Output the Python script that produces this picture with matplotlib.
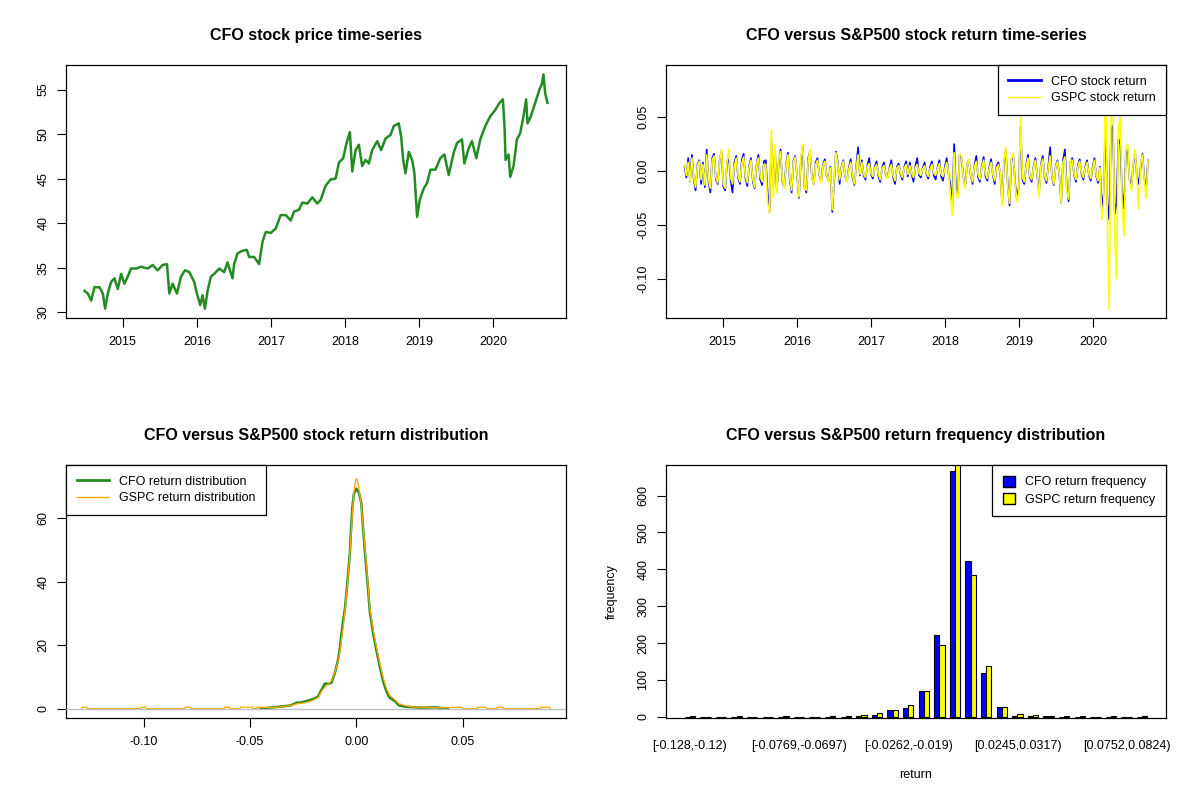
import numpy as np
import matplotlib
matplotlib.use("Agg")
import matplotlib.pyplot as plt
from matplotlib.patches import Patch
from matplotlib.lines import Line2D

plt.rcParams['font.family'] = ['Liberation Sans', 'DejaVu Sans']

# --- CFO price (decimal year, close) ---
price_t = [2014.484, 2014.529, 2014.574, 2014.618, 2014.686, 2014.731, 2014.762, 2014.798,
           2014.843, 2014.888, 2014.933, 2014.978, 2015.022, 2015.067, 2015.112, 2015.180,
           2015.247, 2015.337, 2015.404, 2015.471, 2015.539, 2015.597, 2015.629, 2015.673,
           2015.732, 2015.786, 2015.840, 2015.898, 2015.965, 2016.001, 2016.046, 2016.077,
           2016.109, 2016.145, 2016.190, 2016.235, 2016.302, 2016.369, 2016.414, 2016.481,
           2016.504, 2016.549, 2016.616, 2016.675, 2016.706, 2016.773, 2016.841, 2016.886,
           2016.930, 2016.998, 2017.065, 2017.132, 2017.200, 2017.267, 2017.312, 2017.379,
           2017.424, 2017.492, 2017.559, 2017.626, 2017.671, 2017.738, 2017.806, 2017.873,
           2017.918, 2017.976, 2018.021, 2018.066, 2018.098, 2018.143, 2018.187, 2018.232,
           2018.277, 2018.322, 2018.367, 2018.434, 2018.488, 2018.547, 2018.614, 2018.659,
           2018.726, 2018.758, 2018.785, 2018.816, 2018.861, 2018.906, 2018.937, 2018.973,
           2019.009, 2019.063, 2019.108, 2019.153, 2019.220, 2019.287, 2019.341, 2019.400,
           2019.467, 2019.512, 2019.579, 2019.611, 2019.669, 2019.714, 2019.772, 2019.826,
           2019.894, 2019.961, 2020.028, 2020.086, 2020.131, 2020.153, 2020.167, 2020.207,
           2020.230, 2020.275, 2020.320, 2020.365, 2020.409, 2020.445, 2020.464, 2020.508,
           2020.567, 2020.625, 2020.656, 2020.679, 2020.701, 2020.733]
price = [32.4, 32.1, 31.3, 32.8, 32.8, 32.1, 30.4, 32.1, 33.4, 33.8, 32.6, 34.3, 33.2, 34.0,
         34.9, 34.9, 35.1, 34.9, 35.3, 34.7, 35.3, 35.4, 32.1, 33.2, 32.1, 34.0, 34.7, 34.5,
         33.4, 32.1, 30.8, 31.9, 30.4, 32.4, 34.0, 34.3, 34.9, 34.5, 35.6, 33.8, 35.4, 36.6,
         36.9, 37.0, 36.2, 36.2, 35.4, 37.9, 39.0, 38.9, 39.4, 40.9, 40.9, 40.3, 41.3, 41.5,
         42.3, 42.2, 42.9, 42.2, 42.6, 44.2, 44.9, 45.0, 46.8, 47.3, 49.0, 50.2, 45.8, 48.2,
         48.8, 46.4, 47.1, 46.7, 48.2, 49.2, 48.2, 49.5, 49.9, 50.9, 51.2, 49.7, 47.1, 45.6,
         48.0, 47.1, 45.6, 40.7, 42.6, 43.9, 44.5, 46.0, 46.0, 47.3, 47.7, 45.4, 47.9, 49.0,
         49.4, 46.7, 48.4, 49.2, 47.3, 49.4, 50.9, 52.0, 52.7, 53.5, 53.9, 50.9, 47.1, 47.7,
         45.2, 46.4, 49.4, 50.1, 52.0, 53.9, 51.2, 52.0, 53.5, 55.0, 55.6, 56.7, 54.6, 53.5]

# --- returns, sampled roughly every 6 trading days (CFO and S&P500) ---
cfo_ret = [
    0.004, -0.006, 0.012, -0.010, 0.015, -0.008, -0.018, 0.006, 0.010, -0.012, 0.008, -0.015,
    0.020, -0.010, -0.020, 0.012, 0.016, -0.008, -0.012, 0.010, 0.018, -0.014,
    -0.018, 0.006, 0.015, -0.009, -0.020, 0.008, 0.014, -0.006, -0.012, 0.010, 0.016,
    -0.007, -0.014, 0.005, 0.012, -0.010, -0.016, 0.006, 0.015, -0.008, -0.013, 0.009,
    0.010, -0.020, -0.038, 0.028, -0.015, 0.020,
    -0.018, 0.008, 0.020, -0.010, -0.015, 0.006, 0.017, -0.008, -0.020, 0.010, 0.014, -0.006,
    -0.025, 0.010, 0.022, -0.015, -0.020, 0.012, 0.018, -0.006, -0.012, 0.008,
    0.012, -0.004, -0.010, 0.006, 0.011, -0.005, -0.009, 0.004,
    -0.038, -0.010, 0.018, 0.008,
    -0.012, 0.004, 0.010, -0.005, -0.009, 0.003, 0.011, -0.006, -0.013, 0.005, 0.022, -0.004,
    0.010, -0.004, -0.008, 0.005, 0.012, -0.003, -0.007, 0.004, 0.009, -0.005, -0.010, 0.003,
    0.008, -0.004, -0.006, 0.003, 0.010, -0.006, -0.012, 0.004, 0.007, -0.003, -0.008, 0.004,
    0.009, -0.005,
    0.008, -0.003, -0.010, 0.004, 0.012, -0.004, -0.006, 0.003, 0.008, -0.003, -0.007, 0.004,
    0.009, -0.004, -0.008, 0.003, 0.010, -0.005, -0.009, 0.004, 0.012, -0.003,
    -0.012, -0.035, 0.025, -0.015, -0.020, 0.015,
    0.012, -0.005, -0.015, 0.006, 0.010, -0.004, -0.012, 0.005, 0.014, -0.006, -0.010, 0.004,
    0.013, -0.005, -0.009, 0.003, 0.011, -0.004, -0.012, 0.005, 0.008, -0.003,
    -0.030, 0.008, 0.020, -0.012, -0.032, 0.010, 0.015, -0.010, -0.026, -0.015, 0.041, -0.008,
    -0.012, 0.005, 0.015, -0.006, -0.010, 0.004, 0.012, -0.005, -0.020, 0.006, 0.014, -0.005,
    -0.011, 0.004, 0.022, -0.006, -0.013, 0.005, 0.010, -0.004,
    -0.030, 0.010, 0.020, -0.015, -0.028, 0.008,
    0.012, -0.004, -0.010, 0.005, 0.011, -0.003, -0.008, 0.004, 0.010, -0.004, -0.009, 0.003,
    0.012, -0.005, -0.011, 0.004,
    -0.035, -0.020, 0.045, -0.030, -0.045, 0.038, 0.042, -0.040, -0.030, 0.030, 0.025, -0.020,
    -0.035, 0.015,
    0.020, -0.008, -0.015, 0.006, 0.018, -0.005, -0.012, 0.004, 0.016, -0.006, -0.018, 0.010]
gspc_ret = [
    0.006, -0.004, 0.008, -0.010, 0.012, -0.006, -0.015, 0.005, 0.009, -0.008, 0.006, -0.013,
    0.015, -0.008, -0.016, 0.010, 0.014, -0.006, -0.011, 0.009, 0.020, -0.012,
    -0.016, 0.008, 0.020, -0.006, -0.012, 0.005, 0.012, -0.004, -0.010, 0.007, 0.013,
    -0.005, -0.011, 0.004, 0.010, -0.008, -0.015, 0.006, 0.012, -0.005, -0.010, 0.006,
    0.006, -0.030, -0.039, 0.038, -0.025, 0.025,
    -0.020, 0.010, 0.018, -0.008, -0.016, 0.005, 0.015, -0.006, -0.018, 0.009, 0.013, -0.005,
    -0.024, 0.012, 0.025, -0.016, -0.018, 0.010, 0.020, -0.006, -0.012, 0.006,
    0.010, -0.003, -0.011, 0.005, 0.009, -0.004, -0.010, 0.003,
    -0.036, -0.008, 0.017, 0.006,
    -0.008, 0.003, 0.009, -0.004, -0.010, 0.002, 0.008, -0.004, -0.012, 0.003, 0.015, -0.003,
    0.008, -0.003, -0.006, 0.004, 0.007, -0.002, -0.005, 0.003, 0.006, -0.003, -0.008, 0.002,
    0.005, -0.003, -0.007, 0.002, 0.006, -0.004, -0.009, 0.003, 0.005, -0.002, -0.006, 0.003,
    0.006, -0.003,
    0.005, -0.002, -0.006, 0.003, 0.006, -0.002, -0.004, 0.002, 0.005, -0.002, -0.005, 0.002,
    0.006, -0.002, -0.004, 0.002, 0.007, -0.003, -0.005, 0.002, 0.008, -0.002,
    -0.022, -0.041, 0.017, -0.020, -0.025, 0.016,
    0.014, -0.006, -0.016, 0.005, 0.011, -0.004, -0.010, 0.004, 0.009, -0.003, -0.008, 0.003,
    0.010, -0.003, -0.007, 0.002, 0.008, -0.003, -0.009, 0.003, 0.006, -0.002,
    -0.032, 0.010, 0.022, -0.014, -0.030, 0.012, 0.017, -0.012, -0.028, -0.020, 0.050, -0.006,
    -0.010, 0.004, 0.012, -0.005, -0.008, 0.003, 0.010, -0.004, -0.024, 0.005, 0.011, -0.004,
    -0.009, 0.003, 0.014, -0.005, -0.012, 0.004, 0.009, -0.003,
    -0.030, 0.008, 0.013, -0.018, -0.026, 0.010,
    0.010, -0.003, -0.008, 0.004, 0.009, -0.002, -0.006, 0.003, 0.008, -0.003, -0.007, 0.002,
    0.010, -0.004, -0.009, 0.003,
    -0.045, -0.030, 0.090, -0.050, -0.128, 0.060, 0.070, -0.060, -0.100, 0.040, 0.050, -0.030,
    -0.060, 0.020,
    0.025, -0.010, -0.018, 0.008, 0.020, -0.006, -0.035, 0.006, 0.015, -0.008, -0.025, 0.010]
ret_start, ret_end = 2014.484, 2020.740

# --- return densities ---
cfo_dens_x = [-0.045, -0.036, -0.031, -0.028, -0.0265, -0.0234, -0.020, -0.018, -0.0164, -0.0148,
              -0.0132, -0.0117, -0.0101, -0.0086, -0.0078, -0.007, -0.0062, -0.0055, -0.0047,
              -0.0039, -0.0031, -0.0025, -0.0019, -0.0012, 0.0, 0.0012, 0.0023, 0.0031, 0.0039,
              0.0047, 0.0055, 0.0062, 0.0078, 0.0093, 0.0109, 0.0125, 0.014, 0.0156, 0.018,
              0.020, 0.023, 0.030, 0.037, 0.043]
cfo_dens_y = [0.0, 0.6, 1.0, 1.9, 1.9, 2.4, 3.1, 3.8, 6.0, 7.9, 7.8, 8.2, 11.3, 15.5, 19.0,
              23.8, 28.0, 31.0, 36.4, 42.6, 49.0, 57.0, 63.5, 67.7, 69.3, 68.0, 64.6, 57.0,
              50.0, 43.7, 37.4, 31.0, 23.8, 18.6, 13.4, 8.7, 5.5, 3.4, 2.4, 1.0, 0.6, 0.3, 0.4, 0.0]
gspc_dens_x = [-0.1290, -0.1287, -0.1266, -0.1263, -0.1014, -0.1011, -0.0989, -0.0986,
               -0.0808, -0.0805, -0.0780, -0.0777, -0.0621, -0.0618, -0.0596, -0.0593,
               -0.0547, -0.0544, -0.0489, -0.0486, -0.0469, -0.0466, -0.0442, -0.040,
               -0.036, -0.031, -0.028, -0.025, -0.022, -0.020, -0.018, -0.0164, -0.0148,
               -0.0132, -0.0117, -0.0101, -0.0086, -0.0078, -0.007, -0.0062, -0.0055, -0.0047,
               -0.0039, -0.0031, -0.0025, -0.0019, -0.0012, -0.0004, 0.0, 0.0006, 0.0012,
               0.0023, 0.0031, 0.0039, 0.0047, 0.0055, 0.0062, 0.0078, 0.0093, 0.0109, 0.0125,
               0.014, 0.0156, 0.018, 0.020, 0.023, 0.027, 0.032, 0.038, 0.0495, 0.0498,
               0.0565, 0.0568, 0.0609, 0.0612, 0.0659, 0.0662, 0.0689, 0.0692,
               0.0863, 0.0866, 0.0907, 0.0910]
gspc_dens_y = [0.0, 0.45, 0.45, 0.0, 0.0, 0.45, 0.45, 0.0,
               0.0, 0.45, 0.45, 0.0, 0.0, 0.45, 0.45, 0.0,
               0.0, 0.45, 0.45, 0.0, 0.0, 0.45, 0.45, 0.3,
               0.5, 1.0, 1.5, 1.8, 2.2, 2.8, 3.5, 5.5, 6.8,
               7.8, 8.8, 11.5, 15.0, 18.0, 22.0, 26.0, 30.5, 36.0,
               42.0, 49.0, 55.0, 62.0, 68.0, 72.0, 72.5, 71.5, 69.0,
               64.0, 57.5, 51.0, 45.0, 38.5, 32.0, 25.0, 19.5, 14.5, 9.8,
               6.5, 4.2, 2.8, 1.5, 0.9, 0.5, 0.4, 0.3, 0.45, 0.0,
               0.0, 0.45, 0.45, 0.0, 0.0, 0.45, 0.45, 0.0,
               0.0, 0.45, 0.45, 0.0]

# --- return frequency (30 bins) ---
bin_labels = ['[-0.128,-0.12)', '[-0.0769,-0.0697)', '[-0.0262,-0.019)',
              '[0.0245,0.0317)', '[0.0752,0.0824)']
cfo_freq = [0, 0, 0, 0, 0, 0, 0, 0, 0, 0, 0, 1, 5, 17, 23, 71, 221, 668, 422, 118,
            27, 3, 3, 2, 0, 0, 0, 0, 0, 0]
gspc_freq = [2, 0, 0, 2, 0, 0, 2, 0, 0, 2, 2, 4, 9, 17, 31, 71, 194, 700, 384, 137,
             27, 8, 5, 3, 2, 2, 0, 2, 0, 2]

W, H = 1200, 800
fig = plt.figure(figsize=(12, 8), dpi=100)


def panel(x0, y0):
    return fig.add_axes([x0 / W, 1 - (y0 + 253) / H, 500 / W, 253 / H])


def style(ax, title):
    ax.set_title(title, fontsize=11.5, fontweight='bold', pad=18)
    ax.tick_params(labelsize=9, length=6.5, width=0.8, pad=6.5)
    ax.tick_params(axis='y', labelrotation=90, pad=5.5)
    for lab in ax.get_yticklabels():
        lab.set_va('center')
    for s in ax.spines.values():
        s.set_linewidth(0.9)


def r_lim(lo, hi):
    pad = (hi - lo) * 0.04
    return lo - pad, hi + pad


def r_legend(ax, handles, labels, loc, **kw):
    leg = ax.legend(handles=handles, labels=labels, loc=loc, borderaxespad=0,
                    fancybox=False, edgecolor='black', framealpha=1, fontsize=9,
                    borderpad=0.85, labelspacing=0.35, **kw)
    leg.get_frame().set_linewidth(0.9)
    return leg


# Top left: price
ax1 = panel(66, 65)
ax1.plot(price_t, price, color='forestgreen', lw=1.8)
ax1.set_xlim(r_lim(min(price_t), max(price_t)))
ax1.set_ylim(r_lim(min(price), max(price)))
ax1.set_xticks([2015, 2016, 2017, 2018, 2019, 2020])
ax1.set_yticks([30, 35, 40, 45, 50, 55])
style(ax1, 'CFO stock price time-series')

# Top right: returns
ax2 = panel(666, 65)
rt = np.linspace(ret_start, ret_end, len(cfo_ret))
ax2.plot(rt, cfo_ret, color='blue', lw=1.2)
ax2.plot(rt, gspc_ret, color='yellow', lw=1.2)
ax2.set_xlim(r_lim(min(price_t), max(price_t)))
ax2.set_ylim(r_lim(min(cfo_ret + gspc_ret) + 0.0003, max(cfo_ret + gspc_ret) - 0.0003))
ax2.set_xticks([2015, 2016, 2017, 2018, 2019, 2020])
ax2.set_yticks([-0.10, -0.05, 0.0, 0.05])
ax2.set_yticklabels(['-0.10', '-0.05', '0.00', '0.05'])
style(ax2, 'CFO versus S&P500 stock return time-series')
r_legend(ax2, [Line2D([], [], color='blue', lw=2), Line2D([], [], color='yellow', lw=1)],
         ['CFO stock return', 'GSPC stock return'], 'upper right', handlelength=2.6)

# Bottom left: density
ax3 = panel(66, 465)
ax3.plot(cfo_dens_x, cfo_dens_y, color='forestgreen', lw=1.8, zorder=2)
ax3.plot(gspc_dens_x, gspc_dens_y, color='orange', lw=0.9, zorder=3)
ax3.axhline(0, color='#bebebe', lw=1.0, zorder=4)
ax3.set_xlim(r_lim(min(gspc_dens_x) + 0.0013, max(gspc_dens_x) - 0.0013))
ax3.set_ylim(r_lim(0, 73.8))
ax3.set_xticks([-0.10, -0.05, 0.0, 0.05])
ax3.set_xticklabels(['-0.10', '-0.05', '0.00', '0.05'])
ax3.set_yticks([0, 20, 40, 60])
style(ax3, 'CFO versus S&P500 stock return distribution')
r_legend(ax3, [Line2D([], [], color='forestgreen', lw=2), Line2D([], [], color='orange', lw=1)],
         ['CFO return distribution', 'GSPC return distribution'], 'upper left',
         handlelength=2.6)

# Bottom right: frequency bars
ax4 = panel(666, 465)
groups = np.arange(len(cfo_freq))
left = 1 + 3 * groups
ax4.bar(left + 0.5, cfo_freq, width=1, color='blue', edgecolor='black', lw=0.8)
ax4.bar(left + 1.5, gspc_freq, width=1, color='yellow', edgecolor='black', lw=0.8)
lo, hi = 1, 3 * len(cfo_freq)
ax4.set_xlim(r_lim(lo, hi))
ax4.set_ylim(-3.5, 683)
ax4.set_xticks(left[::7] + 1)
ax4.set_xticklabels(bin_labels)
ax4.set_yticks([0, 100, 200, 300, 400, 500, 600])
style(ax4, 'CFO versus S&P500 return frequency distribution')
ax4.tick_params(axis='x', length=0, pad=16)
ax4.set_xlabel('return', fontsize=9, labelpad=12)
ax4.set_ylabel('frequency', fontsize=9, labelpad=14)
r_legend(ax4, [Patch(facecolor='blue', edgecolor='black'),
               Patch(facecolor='yellow', edgecolor='black')],
         ['CFO return frequency', 'GSPC return frequency'], 'upper right',
         handlelength=1.0, handleheight=1.0)

fig.savefig('out.png', dpi=100)
